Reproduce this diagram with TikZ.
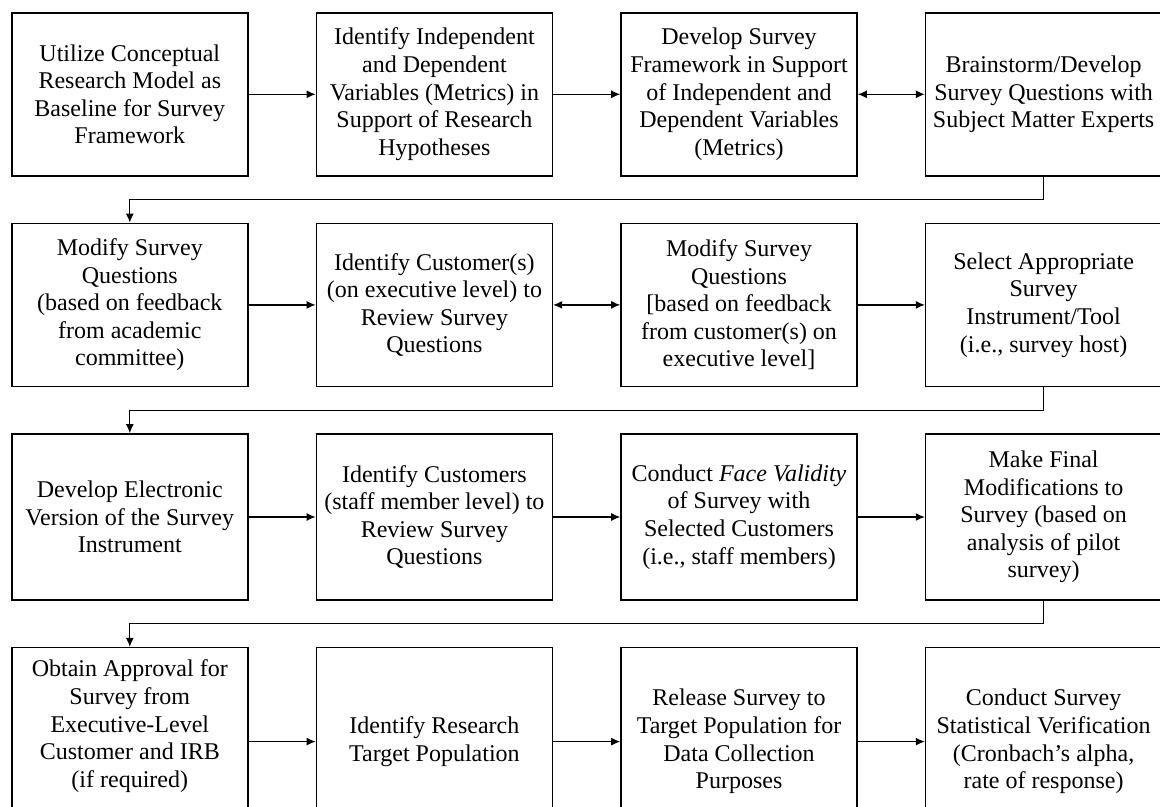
\documentclass[tikz,border=0pt]{standalone}
\usepackage{fontspec}
\setmainfont{Liberation Serif}
\usepackage{tikz}
\usetikzlibrary{arrows.meta, positioning}

\begin{document}
\begin{tikzpicture}[font=\fontsize{12}{13.8}\selectfont, node distance=23pt and 33.5pt,
  stepbox/.style={draw, line width=0.8pt, minimum width=118pt, minimum height=81.5pt, align=center, inner sep=2pt},
  arr/.style={line width=0.6pt, -{Latex[length=4.5pt, width=4pt]}},
  biarr/.style={line width=0.6pt, {Latex[length=4.5pt, width=4pt]}-{Latex[length=4.5pt, width=4pt]}}]
\useasboundingbox (-5.5pt,6pt) rectangle (574.5pt,-397.5pt);
% row 1
\node[stepbox, anchor=north west] (model) at (0,0) {Utilize Conceptual\\Research Model as\\Baseline for Survey\\Framework};
\node[stepbox, right=of model] (vars) {Identify Independent\\and Dependent\\Variables (Metrics) in\\Support of Research\\Hypotheses};
\node[stepbox, right=of vars] (frame) {Develop Survey\\Framework in Support\\of Independent and\\Dependent Variables\\(Metrics)};
\node[stepbox, right=of frame] (brainstorm) {Brainstorm/Develop\\Survey Questions with\\Subject Matter Experts};
% row 2
\node[stepbox, below=of model] (modacad) {Modify Survey\\Questions\\(based on feedback\\from academic\\committee)};
\node[stepbox, right=of modacad] (execcust) {Identify Customer(s)\\(on executive level) to\\Review Survey\\Questions};
\node[stepbox, right=of execcust] (modexec) {Modify Survey\\Questions\\{[}based on feedback\\from customer(s) on\\executive level{]}};
\node[stepbox, right=of modexec] (instrument) {Select Appropriate\\Survey\\Instrument/Tool\\(i.e., survey host)};
% row 3
\node[stepbox, minimum height=83pt, below=of modacad] (electronic) {Develop Electronic\\Version of the Survey\\Instrument};
\node[stepbox, minimum height=83pt, right=of electronic] (staffcust) {Identify Customers\\(staff member level) to\\Review Survey\\Questions};
\node[stepbox, minimum height=83pt, right=of staffcust] (facevalid) {Conduct \textit{Face Validity}\\of Survey with\\Selected Customers\\(i.e., staff members)};
\node[stepbox, minimum height=83pt, right=of facevalid] (finalmod) {Make Final\\Modifications to\\Survey (based on\\analysis of pilot\\survey)};
% row 4, cut off at the bottom
\node[stepbox, minimum height=94pt, below=of electronic] (approval) {Obtain Approval for\\Survey from\\Executive-Level\\Customer and IRB\\(if required)\\\strut};
\node[stepbox, minimum height=94pt, right=of approval] (population) {Identify Research\\Target Population};
\node[stepbox, minimum height=94pt, right=of population] (release) {Release Survey to\\Target Population for\\Data Collection\\Purposes};
\node[stepbox, minimum height=94pt, right=of release] (verify) {Conduct Survey\\Statistical Verification\\(Cronbach’s alpha,\\rate of response)};

\draw[arr] (model) -- (vars);
\draw[arr] (vars) -- (frame);
\draw[biarr] (frame) -- (brainstorm);
\draw[arr] (brainstorm.south) -- ++(0,-11.5pt) -| (modacad.north);
\draw[arr] (modacad) -- (execcust);
\draw[biarr] (execcust) -- (modexec);
\draw[arr] (modexec) -- (instrument);
\draw[arr] (instrument.south) -- ++(0,-11.5pt) -| (electronic.north);
\draw[arr] (electronic) -- (staffcust);
\draw[arr] (staffcust) -- (facevalid);
\draw[arr] (facevalid) -- (finalmod);
\draw[arr] (finalmod.south) -- ++(0,-11.5pt) -| (approval.north);
\draw[arr] (approval) -- (population);
\draw[arr] (population) -- (release);
\draw[arr] (release) -- (verify);
\end{tikzpicture}
\end{document}
